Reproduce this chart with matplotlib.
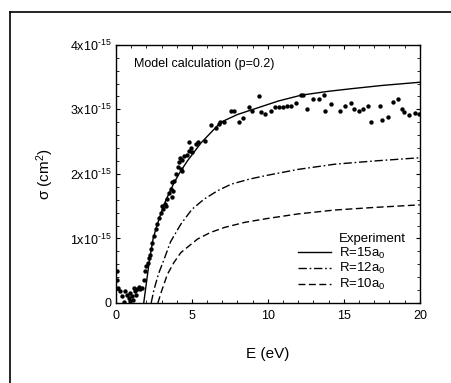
import matplotlib
matplotlib.use("Agg")
import matplotlib.pyplot as plt
from matplotlib.lines import Line2D
from matplotlib.ticker import MultipleLocator, FixedLocator, FixedFormatter

plt.rcParams['font.family'] = ['Liberation Sans', 'DejaVu Sans']
plt.rcParams['mathtext.fontset'] = 'custom'
plt.rcParams['mathtext.rm'] = 'Liberation Sans'
plt.rcParams['mathtext.it'] = 'Liberation Sans:italic'

# Experimental data (E in eV, sigma in 1e-15 cm^2)
exp_E = [0.07, 0.1, 0.17, 0.29, 0.4, 0.62, 0.73, 0.84, 0.95, 1.06, 1.17, 1.28, 1.39, 1.5,
         1.61, 1.73, 0.5, 0.9, 1.1, 1.3,
         1.83, 1.94, 2.01, 2.1, 2.16, 2.23, 2.32, 2.39, 2.5, 2.61, 2.72, 2.83, 2.94, 3.05,
         3.12, 3.2, 3.27, 3.34, 3.49, 3.6, 3.67, 3.72, 3.76, 3.82, 3.94, 4.09, 4.16, 4.22,
         4.27, 4.38, 4.38, 4.45, 4.71, 4.78, 4.82, 4.93, 4.98, 5.26, 5.37, 5.88,
         6.26, 6.59, 6.81, 6.87, 7.1, 7.58, 7.8, 8.1, 8.36, 8.76, 8.96, 9.4, 9.53, 9.84,
         10.19, 10.5, 10.75, 11.0, 11.23, 11.5, 11.83, 12.16, 12.34, 12.57, 13.0, 13.34,
         13.71, 13.78, 14.17, 14.73, 15.1, 15.5, 15.66, 15.99, 16.28, 16.61, 16.81, 17.39,
         17.49, 17.87, 18.25, 18.53, 18.8, 18.98, 19.31, 19.68, 19.93]
exp_S = [0.36, 0.5, 0.23, 0.18, 0.1, 0.18, 0.13, 0.08, 0.16, 0.1, 0.23, 0.18, 0.21, 0.25,
         0.21, 0.23, 0.02, 0.03, 0.05, 0.12,
         0.36, 0.49, 0.57, 0.62, 0.7, 0.75, 0.83, 0.93, 1.04, 1.14, 1.22, 1.32, 1.4, 1.5,
         1.45, 1.53, 1.5, 1.61, 1.7, 1.76, 1.64, 1.87, 1.74, 1.89, 2.0, 2.11, 2.18, 2.24,
         2.08, 2.21, 2.05, 2.27, 2.3, 2.5, 2.36, 2.4, 2.34, 2.47, 2.49, 2.51,
         2.75, 2.71, 2.78, 2.81, 2.81, 2.98, 2.98, 2.81, 2.86, 3.04, 2.97, 3.21, 2.96, 2.93,
         2.98, 3.04, 3.04, 3.04, 3.05, 3.05, 3.1, 3.23, 3.23, 3.01, 3.16, 3.16,
         3.22, 2.97, 3.09, 2.97, 3.05, 3.1, 3.0, 2.97, 3.0, 3.05, 2.81, 3.05,
         2.84, 2.88, 3.12, 3.16, 3.0, 2.96, 2.91, 2.95, 2.93]

# Model curves
r15_E = [1.83, 2.0, 2.2, 2.45, 2.7, 2.95, 3.3, 3.8, 4.2, 4.7, 5.6, 6.9, 8.0, 8.9, 10.7,
         12.2, 14.0, 15.5, 17.5, 20]
r15_S = [0, 0.3, 0.65, 1.0, 1.2, 1.38, 1.6, 1.85, 2.02, 2.2, 2.48, 2.8, 2.92, 2.99, 3.13,
         3.22, 3.28, 3.32, 3.37, 3.42]
r12_E = [2.32, 2.5, 2.8, 3.16, 3.6, 4.27, 5.0, 5.81, 6.7, 7.58, 8.8, 10, 12, 14.4, 17, 20]
r12_S = [0, 0.2, 0.45, 0.67, 0.95, 1.22, 1.45, 1.61, 1.74, 1.84, 1.92, 1.98, 2.07, 2.15,
         2.2, 2.25]
r10_E = [2.76, 3.0, 3.38, 3.8, 4.27, 5.37, 6.2, 7.14, 8.5, 10, 12, 14.4, 17, 20]
r10_S = [0, 0.18, 0.44, 0.62, 0.78, 0.99, 1.09, 1.17, 1.25, 1.31, 1.38, 1.44, 1.48, 1.52]

x_ticks = [0, 5, 10, 15, 20]
y_ticks = [0, 1, 2, 3, 4]
y_ticklabels = ['0', '1x10$^{\\text{-15}}$', '2x10$^{\\text{-15}}$',
                '3x10$^{\\text{-15}}$', '4x10$^{\\text{-15}}$']

fig = plt.figure(figsize=(4.51, 3.83), dpi=100)
ax = fig.add_axes([0.257, 0.209, 0.674, 0.674])

ax.scatter(exp_E, exp_S, s=10, color='black', linewidths=0, zorder=3)
ax.plot(r15_E, r15_S, color='black', lw=1.0, label='R=15a$_0$')
ax.plot(r12_E, r12_S, color='black', lw=1.0, dashes=(6, 2, 1.2, 2), label='R=12a$_0$')
ax.plot(r10_E, r10_S, color='black', lw=1.0, dashes=(5, 2.5), label='R=10a$_0$')

ax.set_xlim(0, 20)
ax.set_ylim(0, 4)
ax.xaxis.set_major_locator(FixedLocator(x_ticks))
ax.yaxis.set_major_locator(FixedLocator(y_ticks))
ax.yaxis.set_major_formatter(FixedFormatter(y_ticklabels))
ax.xaxis.set_minor_locator(MultipleLocator(1))
ax.yaxis.set_minor_locator(MultipleLocator(0.2))
ax.tick_params(which='both', direction='in', top=True, right=True, labelsize=9)
ax.tick_params(which='major', length=3, width=0.8)
ax.tick_params(which='minor', length=2, width=0.6)
ax.tick_params(axis='x', pad=5)
for sp in ax.spines.values():
    sp.set_linewidth(1.0)

ax.set_xlabel('E (eV)', fontsize=11, labelpad=18)
ax.set_ylabel('σ (cm$^2$)', fontsize=11, labelpad=10)

ax.text(0.06, 0.925, 'Model calculation (p=0.2)', transform=ax.transAxes,
        fontsize=9, va='center', ha='left')

handles = [Line2D([], [], linestyle='none')] + ax.get_lines()
labels = ['Experiment', 'R=15a$_0$', 'R=12a$_0$', 'R=10a$_0$']
ax.legend(handles, labels, loc='lower right', frameon=False, fontsize=9.5,
          handlelength=2.5, labelspacing=0.05, borderaxespad=0.9, handletextpad=0.6,
          bbox_to_anchor=(1.01, -0.025))

# figure border (left and top)
fig.add_artist(Line2D([10/451, 10/451], [0, 1 - 12/383], color='black', lw=1.2,
                      transform=fig.transFigure))
fig.add_artist(Line2D([10/451, 1], [1 - 12/383, 1 - 12/383], color='black', lw=1.2,
                      transform=fig.transFigure))

fig.savefig('out.png', dpi=100)
